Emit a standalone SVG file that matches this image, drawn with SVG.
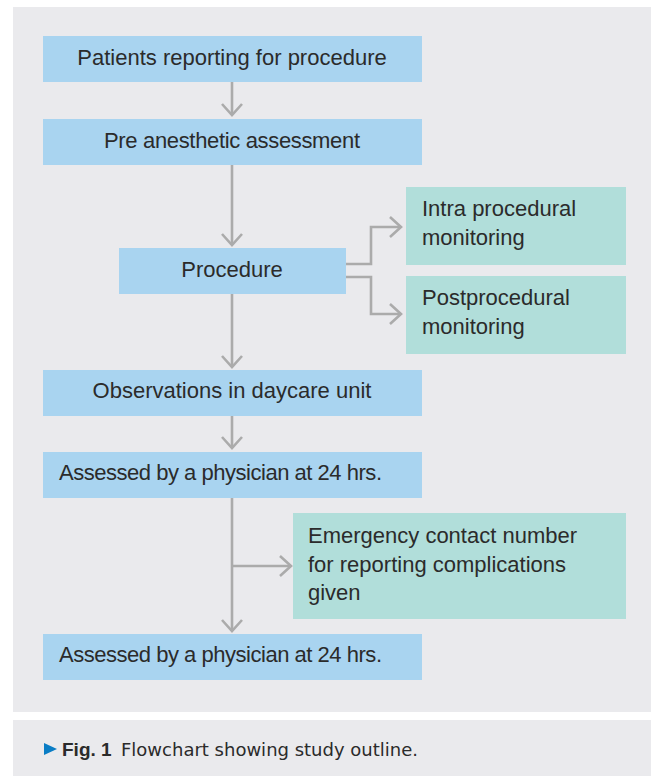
<svg xmlns="http://www.w3.org/2000/svg" width="651" height="776" viewBox="0 0 651 776">
<style>
.panel{fill:#EAEAED}
.blue{fill:#A9D4F0}
.green{fill:#B1DEDA}
.t{font-family:"Liberation Sans",Arial,sans-serif;font-size:22px;fill:#2B2B2B}
.c{text-anchor:middle}
.cap{font-family:"DejaVu Sans","Liberation Sans",sans-serif;font-size:18px;fill:#2B2B2B}
.capb{font-family:"Liberation Sans",Arial,sans-serif;font-size:19px;font-weight:bold;fill:#2B2B2B}
.conn{fill:none;stroke:#ABABAB;stroke-width:2.6}
</style>
<defs>
<marker id="arr" markerUnits="userSpaceOnUse" markerWidth="30" markerHeight="30" viewBox="-15 -15 30 30" refX="0" refY="0" orient="auto" overflow="visible">
<path d="M-11,-10 L0,0 L-11,10" fill="none" stroke="#ABABAB" stroke-width="2.6"/>
</marker>
</defs>
<rect class="panel" x="13" y="7" width="638" height="705"/>
<rect class="panel" x="13" y="720" width="638" height="56"/>
<g id="connectors">
<path class="conn" d="M232,82 V115" marker-end="url(#arr)"/>
<path class="conn" d="M232,165 V245" marker-end="url(#arr)"/>
<path class="conn" d="M346,264 H371 V227 H401" marker-end="url(#arr)"/>
<path class="conn" d="M346,277 H371 V314 H401" marker-end="url(#arr)"/>
<path class="conn" d="M232,294 V367" marker-end="url(#arr)"/>
<path class="conn" d="M232,416 V448" marker-end="url(#arr)"/>
<path class="conn" d="M232,498 V631" marker-end="url(#arr)"/>
<path class="conn" d="M232,566 H291" marker-end="url(#arr)"/>
</g>
<g id="n1">
<rect class="blue" x="43" y="36" width="379" height="46"/>
<text class="t c" x="232" y="65">Patients reporting for procedure</text>
</g>
<g id="n2">
<rect class="blue" x="43" y="119" width="379" height="46"/>
<text class="t c" x="232" y="148" textLength="256">Pre anesthetic assessment</text>
</g>
<g id="n3">
<rect class="blue" x="119" y="248" width="227" height="46"/>
<text class="t c" x="232" y="277">Procedure</text>
</g>
<g id="n4">
<rect class="green" x="406" y="187" width="220" height="78"/>
<text class="t" x="422" y="216">Intra procedural</text>
<text class="t" x="422" y="245">monitoring</text>
</g>
<g id="n5">
<rect class="green" x="406" y="276" width="220" height="78"/>
<text class="t" x="422" y="305">Postprocedural</text>
<text class="t" x="422" y="334">monitoring</text>
</g>
<g id="n6">
<rect class="blue" x="43" y="370" width="379" height="46"/>
<text class="t c" x="232" y="398">Observations in daycare unit</text>
</g>
<g id="n7">
<rect class="blue" x="43" y="452" width="379" height="46"/>
<text class="t" x="59" y="480" textLength="323">Assessed by a physician at 24 hrs.</text>
</g>
<g id="n8">
<rect class="green" x="293" y="513" width="333" height="106"/>
<text class="t" x="308" y="543">Emergency contact number</text>
<text class="t" x="308" y="572">for reporting complications</text>
<text class="t" x="308" y="600">given</text>
</g>
<g id="n9">
<rect class="blue" x="43" y="634" width="379" height="46"/>
<text class="t" x="59" y="662" textLength="323">Assessed by a physician at 24 hrs.</text>
</g>
<g id="caption">
<path d="M44,743 L57,749 L44,755 Z" fill="#0A7DC5"/>
<text class="capb" x="62" y="756">Fig. 1</text>
<text class="cap" x="121" y="756">Flowchart showing study outline.</text>
</g>
</svg>
